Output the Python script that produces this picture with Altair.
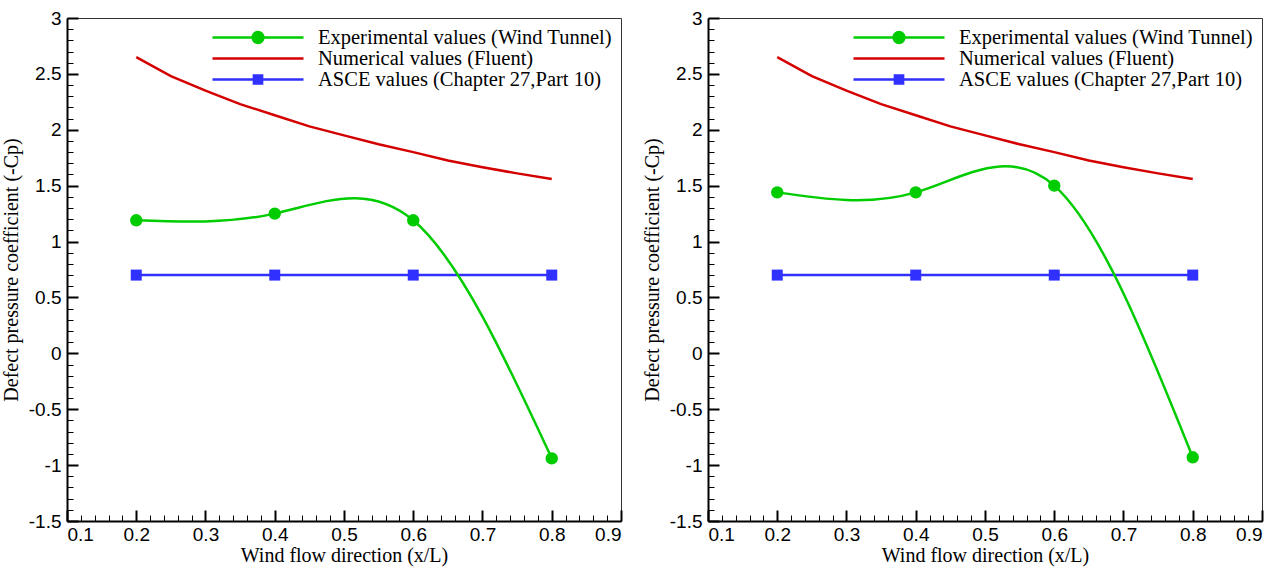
import altair as alt
import pandas as pd

# ---------------- data ----------------
series_names = [
    "Experimental values (Wind Tunnel)",
    "Numerical values (Fluent)",
    "ASCE values (Chapter 27,Part 10)",
]
x_exp = [0.2, 0.4, 0.6, 0.8]
exp_left = [1.19, 1.25, 1.19, -0.94]
exp_right = [1.44, 1.44, 1.50, -0.93]

x_num = [0.2, 0.25, 0.3, 0.35, 0.4, 0.45, 0.5, 0.55, 0.6, 0.65, 0.7, 0.75, 0.8]
num_left = [2.65, 2.48, 2.35, 2.23, 2.13, 2.03, 1.95, 1.87, 1.80, 1.725, 1.665, 1.61, 1.56]
num_right = [2.65, 2.48, 2.35, 2.23, 2.13, 2.03, 1.95, 1.87, 1.80, 1.725, 1.665, 1.61, 1.56]

asce_vals = [0.7, 0.7, 0.7, 0.7]

x_ticks = [0.1, 0.2, 0.3, 0.4, 0.5, 0.6, 0.7, 0.8, 0.9]
y_ticks = [-1.5, -1.0, -0.5, 0.0, 0.5, 1.0, 1.5, 2.0, 2.5, 3.0]
x_minor = [round(a + k * 0.02, 2) for a in x_ticks[:-1] for k in range(1, 5)]
y_minor = [round(a + k * 0.1, 1) for a in y_ticks[:-1] for k in range(1, 5)]

GREEN, RED, BLUE = "#00cc00", "#d40000", "#3030ff"
colors = [GREEN, RED, BLUE]

# legend symbols: line with marker (unit coordinates)
k = 0.0657
r = 0.119
circle_path = (
    f"M-1,0L1,0M{r},0C{r},{k} {k},{r} 0,{r}C{-k},{r} {-r},{k} {-r},0"
    f"C{-r},{-k} {-k},{-r} 0,{-r}C{k},{-r} {r},{-k} {r},0Z"
)
line_path = "M-1,0L1,0"
s = 0.09
square_path = f"M-1,0L1,0M{-s},{-s}L{s},{-s}L{s},{s}L{-s},{s}Z"
shapes = [circle_path, line_path, square_path]

W, H = 554, 503
SANS = "Liberation Sans"
SERIF = "Liberation Serif"

xscale = alt.Scale(domain=[0.1, 0.9], nice=False, zero=False)
yscale = alt.Scale(domain=[-1.5, 3.0], nice=False, zero=False)
xaxis = alt.Axis(
    title="Wind flow direction (x/L)", values=x_ticks, labelExpr="'' + datum.value",
    ticks=False, grid=False, labelPadding=4, titlePadding=1, orient="bottom",
)
yaxis = alt.Axis(
    title="Defect pressure coefficient (-Cp)", values=y_ticks, labelExpr="'' + datum.value",
    ticks=False, grid=False, labelPadding=6, titlePadding=7, orient="left",
)


def tick_axis(orient, vals, length, width):
    # an extra label-less axis pulled inside the plot so its ticks point inward
    return alt.Axis(
        orient=orient, values=vals, labels=False, domain=False, grid=False, title=None,
        ticks=True, tickSize=length, tickWidth=width, tickColor="black", offset=-length,
    )


legend = alt.Legend(
    title=None, orient="top-right", offset=9, padding=0,
    symbolSize=8281, symbolStrokeWidth=2.5, symbolOpacity=1,
    labelFont=SERIF, labelFontSize=20.5, labelColor="black", labelLimit=0,
    labelOffset=13, clipHeight=21, rowPadding=0,
)


def panel(exp_vals, num_vals):
    df_exp = pd.DataFrame({"x": x_exp, "y": exp_vals, "series": series_names[0]})
    df_num = pd.DataFrame({"x": x_num, "y": num_vals, "series": series_names[1]})
    df_asce = pd.DataFrame({"x": x_exp, "y": asce_vals, "series": series_names[2]})
    df_all = pd.concat([df_exp, df_num, df_asce], ignore_index=True)

    X = alt.X("x:Q", scale=xscale, axis=xaxis)
    Y = alt.Y("y:Q", scale=yscale, axis=yaxis)

    red = alt.Chart(df_num).mark_line(color=RED, strokeWidth=2.5).encode(X, Y)
    blue = alt.Chart(df_asce).mark_line(color=BLUE, strokeWidth=2.5).encode(X, Y)
    blue_pts = alt.Chart(df_asce).mark_square(color=BLUE, size=121, opacity=1).encode(X, Y)
    green = alt.Chart(df_exp).mark_line(color=GREEN, strokeWidth=2.5, interpolate="natural").encode(X, Y)
    green_pts = alt.Chart(df_exp).mark_circle(color=GREEN, size=154, opacity=1).encode(X, Y)

    leg = (
        alt.Chart(df_all)
        .transform_filter("false")
        .mark_point(filled=True)
        .encode(
            X, Y,
            fill=alt.Fill("series:N", scale=alt.Scale(domain=series_names, range=colors), legend=legend),
            stroke=alt.Stroke("series:N", scale=alt.Scale(domain=series_names, range=colors), legend=legend),
            shape=alt.Shape("series:N", scale=alt.Scale(domain=series_names, range=shapes), legend=legend),
        )
    )

    main = alt.layer(red, blue, green, blue_pts, green_pts, leg)

    major = alt.Chart(df_num).mark_line(opacity=0, strokeWidth=0).encode(
        x=alt.X("x:Q", scale=xscale, axis=tick_axis("bottom", x_ticks, 11, 2)),
        y=alt.Y("y:Q", scale=yscale, axis=tick_axis("left", y_ticks, 11, 2)),
    )
    minor = alt.Chart(df_num).mark_line(opacity=0, strokeWidth=0).encode(
        x=alt.X("x:Q", scale=xscale, axis=tick_axis("bottom", x_minor, 6, 1)),
        y=alt.Y("y:Q", scale=yscale, axis=tick_axis("left", y_minor, 6, 1)),
    )

    return (
        alt.layer(main, major, minor)
        .resolve_axis(x="independent", y="independent")
        .properties(width=W, height=H)
    )


chart = (
    alt.hconcat(panel(exp_left, num_left), panel(exp_right, num_right), spacing=87, bounds="flush")
    .resolve_scale(fill="independent", stroke="independent", shape="independent")
    .resolve_legend(fill="independent", stroke="independent", shape="independent")
    .properties(padding={"left": 0, "top": 8, "right": 5, "bottom": 5})
    .configure_view(stroke="#333333", strokeWidth=1)
    .configure_axis(
        domainColor="black", domainWidth=2,
        labelFont=SANS, labelFontSize=19, labelColor="black",
        titleFont=SERIF, titleFontSize=20, titleFontWeight="normal", titleColor="black",
    )
)

chart.save("out.html", embed_options={"renderer": "svg", "actions": False})
